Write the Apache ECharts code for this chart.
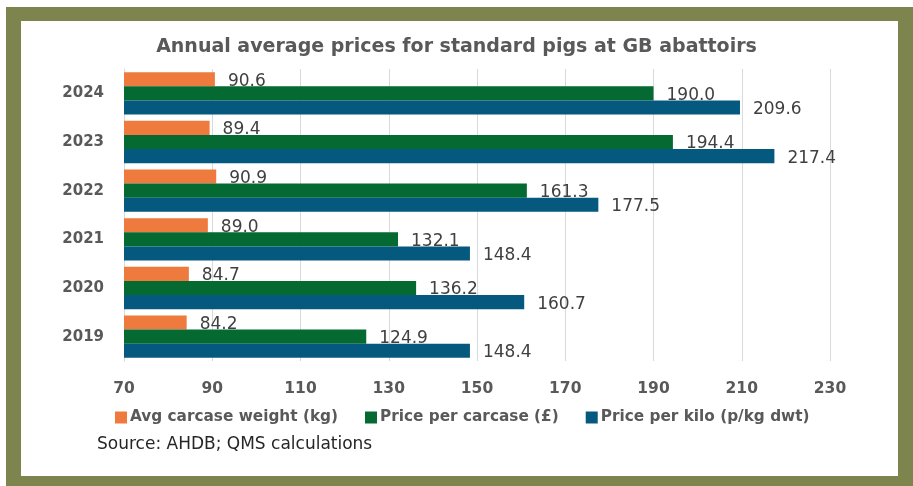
<!DOCTYPE html>
<html>
<head>
<meta charset="utf-8">
<script src="https://cdn.jsdelivr.net/npm/echarts@6/dist/echarts.min.js"></script>
<style>
  html, body { margin: 0; padding: 0; background: #fff; }
  #frame { position: absolute; left: 6px; top: 7px; width: 907px; height: 479px; background: #7E844D; }
  #inner { position: absolute; left: 21px; top: 21px; width: 877px; height: 455px; background: #fff; }
  #chart { position: absolute; left: 0; top: 0; width: 913px; height: 486px; }
</style>
</head>
<body>
<div id="frame"></div>
<div id="inner"></div>
<div id="chart"></div>
<script>
const years = ['2019', '2020', '2021', '2022', '2023', '2024']
const avgWeight = [84.2, 84.7, 89.0, 90.9, 89.4, 90.6]
const pricePerCarcase = [124.9, 136.2, 132.1, 161.3, 194.4, 190.0]
const pricePerKilo = [148.4, 160.7, 148.4, 177.5, 217.4, 209.6]
const xTicks = [70, 90, 110, 130, 150, 170, 190, 210, 230]

const FONT = 'DejaVu Sans'
const chart = echarts.init(document.getElementById('chart'), null, { renderer: 'canvas' })

const labelStyle = {
  show: true,
  position: 'right',
  distance: 13,
  offset: [0, 2],
  color: '#404040',
  fontSize: 17,
  fontFamily: FONT,
  formatter: p => p.value.toFixed(1)
}

function makeSeries(name, data, color) {
  return {
    name: name,
    type: 'bar',
    data: data,
    barGap: '0%',
    barCategoryGap: '13%',
    itemStyle: { color: color },
    label: labelStyle
  }
}

const option = {
  backgroundColor: 'transparent',
  title: {
    text: 'Annual average prices for standard pigs at GB abattoirs',
    left: 'center',
    top: 33,
    textStyle: { fontFamily: FONT, fontWeight: 'bold', fontSize: 19, color: '#595959' }
  },
  grid: { left: 124, right: 83, top: 69, bottom: 125 },
  legend: {
    data: ['Avg carcase weight (kg)', 'Price per carcase (£)', 'Price per kilo (p/kg dwt)'],
    left: 110,
    top: 405,
    icon: 'rect',
    itemWidth: 12,
    itemHeight: 12,
    itemGap: 27,
    textStyle: { fontFamily: FONT, fontWeight: 'bold', fontSize: 15.3, color: '#595959', padding: [0, 0, 0, -2] }
  },
  xAxis: {
    type: 'value',
    min: xTicks[0],
    max: xTicks[xTicks.length - 1],
    interval: 20,
    axisLine: { show: false },
    axisTick: { show: false },
    splitLine: { lineStyle: { color: '#d9d9d9', width: 1 } },
    axisLabel: { margin: 20, color: '#595959', fontWeight: 'bold', fontSize: 15.5, fontFamily: FONT }
  },
  yAxis: {
    type: 'category',
    data: years,
    axisLine: { show: true, lineStyle: { color: '#d9d9d9' } },
    axisTick: { show: false },
    axisLabel: { margin: 20, color: '#595959', fontWeight: 'bold', fontSize: 15, fontFamily: FONT }
  },
  series: [
    makeSeries('Avg carcase weight (kg)', avgWeight, '#EE7A3E'),
    makeSeries('Price per carcase (£)', pricePerCarcase, '#056A31'),
    makeSeries('Price per kilo (p/kg dwt)', pricePerKilo, '#05597F')
  ],
  graphic: [{
    type: 'text',
    left: 97,
    top: 436,
    style: { text: 'Source: AHDB; QMS calculations', fontFamily: FONT, fontSize: 17, fill: '#262626' }
  }]
}

chart.setOption(option)
</script>
</body>
</html>
